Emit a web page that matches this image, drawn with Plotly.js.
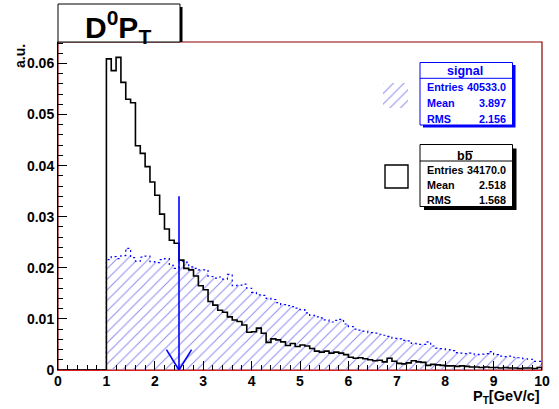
<!DOCTYPE html>
<html><head><meta charset="utf-8">
<script src="https://cdn.plot.ly/plotly-3.0.1.min.js"></script>
<style>html,body{margin:0;padding:0;background:#fff;} #chart{width:559px;height:409px;}</style>
</head><body><div id="chart"></div>
<script>
// ---------- data ----------
const histStart = 1.0;      // first non-empty bin low edge
const binWidth = 0.1;
const axisMinX = 0, axisMaxX = 10;

// signal (blue, hatched) bin contents, bins from 1.0 to 10.0
const signalValues = [
 0.0216,0.0222,0.0218,0.0224,0.0238,0.0220,0.0213,0.0221,0.0223,0.0212,
 0.0210,0.0216,0.0218,0.0205,0.0199,0.0213,0.0211,0.0202,0.0199,0.0196,
 0.0196,0.0183,0.0180,0.0182,0.0178,0.0187,0.0165,0.0166,0.0168,0.0160,
 0.0152,0.0147,0.0146,0.0140,0.0138,0.0132,0.0128,0.0126,0.0124,0.0121,
 0.0118,0.0112,0.0107,0.0104,0.0102,0.0098,0.0094,0.0097,0.0099,0.0090,
 0.0085,0.0080,0.0078,0.0076,0.0073,0.0072,0.0070,0.0068,0.0066,0.0062,
 0.0061,0.0058,0.0057,0.0052,0.0050,0.0050,0.0055,0.0047,0.0043,0.0042,
 0.0040,0.0038,0.0034,0.0033,0.0032,0.0033,0.0030,0.0031,0.0032,0.0036,
 0.0030,0.0027,0.0026,0.0027,0.0025,0.0024,0.0022,0.0021,0.0017,0.0017];

// b-bbar (black) bin contents, bins from 1.0 to 10.0
const bbbarValues = [
 0.0609,0.0586,0.0612,0.0563,0.0530,0.0523,0.0439,0.0424,0.0398,0.0368,
 0.0342,0.0305,0.0276,0.0254,0.0248,0.0215,0.0199,0.0196,0.0184,0.0165,
 0.0157,0.0134,0.0127,0.0117,0.0113,0.0104,0.0098,0.0095,0.0088,0.0074,
 0.0075,0.0082,0.0072,0.0054,0.0061,0.0059,0.0055,0.0048,0.0052,0.0046,
 0.0049,0.0047,0.0042,0.0037,0.0035,0.0037,0.0033,0.0035,0.0033,0.0030,
 0.0025,0.0023,0.0024,0.0022,0.0020,0.0018,0.0019,0.0016,0.0023,0.0017,
 0.0013,0.0012,0.0014,0.0018,0.0016,0.0015,0.0009,0.0011,0.0010,0.0009,
 0.0008,0.0008,0.0007,0.0008,0.0007,0.0006,0.0006,0.0005,0.0006,0.0005,
 0.0005,0.0004,0.0005,0.0004,0.0004,0.0003,0.0004,0.0004,0.0003,0.0005];

const xTickValues = [0,1,2,3,4,5,6,7,8,9,10];
const xTickLabels = ['0','1','2','3','4','5','6','7','8','9','10'];
const yTickValues = [0,0.01,0.02,0.03,0.04,0.05,0.06];
const yTickLabels = ['0','0.01','0.02','0.03','0.04','0.05','0.06'];

const statLabels = ['Entries','Mean','RMS'];
const signalStats = ['40533.0','3.897','2.156'];
const bbbarStats  = ['34170.0','2.518','1.568'];

const cutX = 2.5, cutArrowTop = 0.034, cutHeadHalf = 0.26, cutHeadHeight = 0.004;

// ---------- helpers ----------
function stepArrays(vals){
  const xs=[axisMinX], ys=[0];
  vals.forEach((v,i)=>{ xs.push(+(histStart+i*binWidth).toFixed(3)); ys.push(v); });
  xs.push(axisMaxX); ys.push(vals[vals.length-1]);
  xs.push(axisMaxX); ys.push(0);
  return {xs, ys};
}
const L=58, R=17, T=42, B=39, W=559, H=409;
const PW=W-L-R, PH=H-T-B;
const PX=p=>(p-L)/PW, PY=p=>(H-B-p)/PH;

const FONT='Liberation Sans, Arial, Helvetica, sans-serif';
const hatch={shape:'/', size:7.5, solidity:0.14, fgcolor:'#9090f0', bgcolor:'rgba(255,255,255,0)'};

const sig=stepArrays(signalValues), bb=stepArrays(bbbarValues);

const traces=[
 {x:sig.xs, y:sig.ys, type:'scatter', mode:'lines', line:{shape:'hv', color:'#0000ff', width:1.2, dash:'2px,3px'},
  fill:'tozeroy', fillcolor:'rgba(0,0,0,0)', fillpattern:hatch, hoverinfo:'skip', showlegend:false},
 {x:bb.xs, y:bb.ys, type:'scatter', mode:'lines', line:{shape:'hv', color:'#000000', width:1.6},
  hoverinfo:'skip', showlegend:false},
 // hatched legend swatch on its own unit axes
 {x:[0,1,1,0,0], y:[0,0,1,1,0], xaxis:'x2', yaxis:'y2', type:'scatter', mode:'lines',
  line:{width:0, color:'rgba(0,0,0,0)'}, fill:'toself', fillcolor:'rgba(0,0,0,0)', fillpattern:hatch,
  hoverinfo:'skip', showlegend:false}
];

const shapes=[
 // frame
 {type:'rect', xref:'paper', yref:'paper', x0:0, x1:1, y0:0, y1:1, line:{color:'#8b0000', width:1.2}, layer:'below'},
 // cut arrow
 {type:'line', xref:'x', yref:'y', x0:cutX, x1:cutX, y0:0, y1:cutArrowTop, line:{color:'#0000ff', width:1.6}},
 {type:'line', xref:'x', yref:'y', x0:cutX-cutHeadHalf, x1:cutX, y0:cutHeadHeight, y1:0, line:{color:'#0000ff', width:1.6}},
 {type:'line', xref:'x', yref:'y', x0:cutX+cutHeadHalf, x1:cutX, y0:cutHeadHeight, y1:0, line:{color:'#0000ff', width:1.6}},
 // title box + shadow
 {type:'rect', xref:'paper', yref:'paper', x0:PX(179.5), x1:PX(182.5), y0:PY(42), y1:PY(7), fillcolor:'#000', line:{width:0}},
 {type:'rect', xref:'paper', yref:'paper', x0:PX(58), x1:PX(180), y0:PY(42), y1:PY(4), fillcolor:'#fff', line:{color:'#000', width:1}},
 // signal stat box
 {type:'rect', xref:'paper', yref:'paper', x0:PX(423), x1:PX(515.5), y0:PY(127.5), y1:PY(65), fillcolor:'#0000ff', line:{width:0}},
 {type:'rect', xref:'paper', yref:'paper', x0:PX(420), x1:PX(512.5), y0:PY(125), y1:PY(62.5), fillcolor:'#fff', line:{color:'#0000ff', width:1}},
 {type:'line', xref:'paper', yref:'paper', x0:PX(420), x1:PX(512.5), y0:PY(78.3), y1:PY(78.3), line:{color:'#0000ff', width:1}},
 // bbbar stat box
 {type:'rect', xref:'paper', yref:'paper', x0:PX(424), x1:PX(516.5), y0:PY(210), y1:PY(148.5), fillcolor:'#000', line:{width:0}},
 {type:'rect', xref:'paper', yref:'paper', x0:PX(420), x1:PX(512.5), y0:PY(206.5), y1:PY(144.5), fillcolor:'#fff', line:{color:'#000', width:1}},
 {type:'line', xref:'paper', yref:'paper', x0:PX(420), x1:PX(512.5), y0:PY(161), y1:PY(161), line:{color:'#000', width:1}},
 // overline on second b
 {type:'line', xref:'paper', yref:'paper', x0:PX(466), x1:PX(473), y0:PY(151.5), y1:PY(151.5), line:{color:'#000', width:1.2}},
 // open black swatch
 {type:'rect', xref:'paper', yref:'paper', x0:PX(385), x1:PX(408), y0:PY(188), y1:PY(165), fillcolor:'rgba(0,0,0,0)', line:{color:'#000', width:1.4}}
];

function txt(text, px, py, opts={}){
  return Object.assign({text, xref:'paper', yref:'paper', x:PX(px), y:PY(py), showarrow:false,
    xanchor:'center', yanchor:'middle', font:{family:FONT, size:11, color:'#000', weight:'bold'}}, opts);
}
const annotations=[
 txt('<b>D<sup>0</sup>P<sub>T</sub></b>', 118, 27, {font:{family:FONT, size:30, color:'#000', weight:'bold'}}),
 txt('<b>a.u.</b>', 20, 42, {textangle:-90, yanchor:'top', font:{family:FONT, size:14, color:'#000', weight:'bold'}}),
 txt('<b>P<sub>T</sub>[GeV/c]</b>', 542, 397, {xanchor:'right', font:{family:FONT, size:14.5, color:'#000', weight:'bold'}}),
 txt('<b>signal</b>', 465, 70.5, {font:{family:FONT, size:12.5, color:'#0000ff', weight:'bold'}}),
 txt('<b>bb</b>', 465, 156, {font:{family:FONT, size:12.5, color:'#000', weight:'bold'}})
];
const sigRowsY=[87.5,103.3,118.5], bbRowsY=[170,184.5,200];
const SF=10.8;
statLabels.forEach((lab,i)=>{
  annotations.push(txt('<b>'+lab+'</b>', 424.5, sigRowsY[i], {xanchor:'left', font:{family:FONT,size:SF,color:'#0000ff',weight:'bold'}}));
  annotations.push(txt('<b>'+signalStats[i]+'</b>', 507.5, sigRowsY[i], {xanchor:'right', font:{family:FONT,size:SF,color:'#0000ff',weight:'bold'}}));
  annotations.push(txt('<b>'+lab+'</b>', 424.5, bbRowsY[i], {xanchor:'left', font:{family:FONT,size:SF,color:'#000',weight:'bold'}}));
  annotations.push(txt('<b>'+bbbarStats[i]+'</b>', 507.5, bbRowsY[i], {xanchor:'right', font:{family:FONT,size:SF,color:'#000',weight:'bold'}}));
});

const layout={
 width:W, height:H, margin:{l:L, r:R, t:T, b:B, pad:0},
 paper_bgcolor:'#fff', plot_bgcolor:'#fff', showlegend:false,
 xaxis:{range:[axisMinX,axisMaxX], tickvals:xTickValues, ticktext:xTickLabels, ticks:'inside', ticklen:9, tickwidth:1, tickcolor:'#000',
   showline:true, linecolor:'#e02020', linewidth:1, showgrid:false, zeroline:false, ticklabelstandoff:-2,
   tickfont:{family:FONT, size:14, color:'#000', weight:'bold'},
   minor:{ticks:'inside', ticklen:5, dtick:0.2, tickcolor:'#000', tickwidth:1, showgrid:false}},
 yaxis:{range:[0,0.0642], tickvals:yTickValues, ticktext:yTickLabels, ticks:'inside', ticklen:9, tickwidth:1, tickcolor:'#000',
   showline:true, linecolor:'#000', linewidth:1, showgrid:false, zeroline:false,
   tickfont:{family:FONT, size:14, color:'#000', weight:'bold'},
   minor:{ticks:'inside', ticklen:5, dtick:0.002, tickcolor:'#000', tickwidth:1, showgrid:false}},
 xaxis2:{domain:[PX(383),PX(408)], range:[0,1], visible:false, fixedrange:true, anchor:'y2'},
 yaxis2:{domain:[PY(108),PY(83)], range:[0,1], visible:false, fixedrange:true, anchor:'x2'},
 shapes, annotations
};
Plotly.newPlot('chart', traces, layout, {displayModeBar:false, staticPlot:true});
</script></body></html>
